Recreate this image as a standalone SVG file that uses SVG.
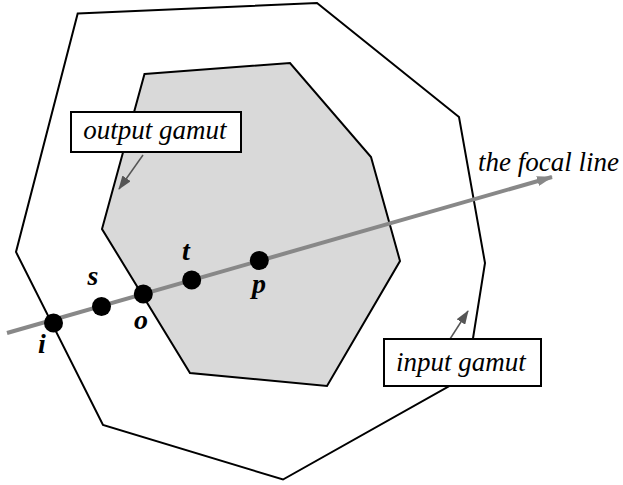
<svg xmlns="http://www.w3.org/2000/svg" width="623" height="485" viewBox="0 0 623 485">
<style>
.gamut{stroke:#000;stroke-width:2;stroke-linejoin:miter}
.lbl{font-family:'Liberation Serif','Times New Roman',Times,serif;font-style:italic;font-size:27px;fill:#000}
.pt{font-family:'Liberation Serif','Times New Roman',Times,serif;font-style:italic;font-weight:bold;font-size:28px;fill:#000;text-anchor:middle}
.box{fill:#fff;stroke:#000;stroke-width:2}
.dot{fill:#000}
</style>
<defs>
<marker id="bigArrow" markerWidth="16" markerHeight="10" refX="15" refY="5" orient="auto" markerUnits="userSpaceOnUse">
<path d="M0,0 L16,5 L0,10 Z" fill="#888"/>
</marker>
<marker id="ptrArrow" markerWidth="14" markerHeight="10" refX="13" refY="5" orient="auto" markerUnits="userSpaceOnUse">
<path d="M0,0 L14,5 L0,10 Z" fill="#555"/>
</marker>
</defs>
<g id="input-gamut">
<polygon class="gamut" fill="#fff" points="77.7,13.5 317,3 459,117 485,263 467,376 283,479.5 103,425 16,252"/>
</g>
<g id="output-gamut">
<polygon class="gamut" fill="#d9d9d9" points="144.5,74 290,63 371,157 400,261 327,386 190,373 102,229"/>
</g>
<g id="connectors">
<line x1="7" y1="333" x2="552" y2="177" stroke="#888" stroke-width="4" marker-end="url(#bigArrow)"/>
<line x1="143" y1="155" x2="119" y2="189" stroke="#555" stroke-width="1.5" marker-end="url(#ptrArrow)"/>
<line x1="450" y1="339" x2="468" y2="311" stroke="#555" stroke-width="1.5" marker-end="url(#ptrArrow)"/>
</g>
<g id="point-i"><circle class="dot" cx="53.5" cy="323" r="9.5"/><text class="pt" x="42" y="353">i</text></g>
<g id="point-s"><circle class="dot" cx="101.5" cy="306.5" r="9.5"/><text class="pt" x="93" y="285">s</text></g>
<g id="point-o"><circle class="dot" cx="143.3" cy="294" r="9.5"/><text class="pt" x="141" y="329">o</text></g>
<g id="point-t"><circle class="dot" cx="191.7" cy="280" r="9.5"/><text class="pt" x="186" y="260">t</text></g>
<g id="point-p"><circle class="dot" cx="259.3" cy="260.5" r="9.5"/><text class="pt" x="259" y="293">p</text></g>
<g id="label-output">
<rect class="box" x="71" y="112" width="170" height="40"/>
<text class="lbl" x="155" y="139" text-anchor="middle">output gamut</text>
</g>
<g id="label-input">
<rect class="box" x="384" y="339" width="157" height="47"/>
<text class="lbl" x="461" y="371" text-anchor="middle">input gamut</text>
</g>
<g id="label-focal">
<text class="lbl" x="478" y="171">the focal line</text>
</g>
</svg>
